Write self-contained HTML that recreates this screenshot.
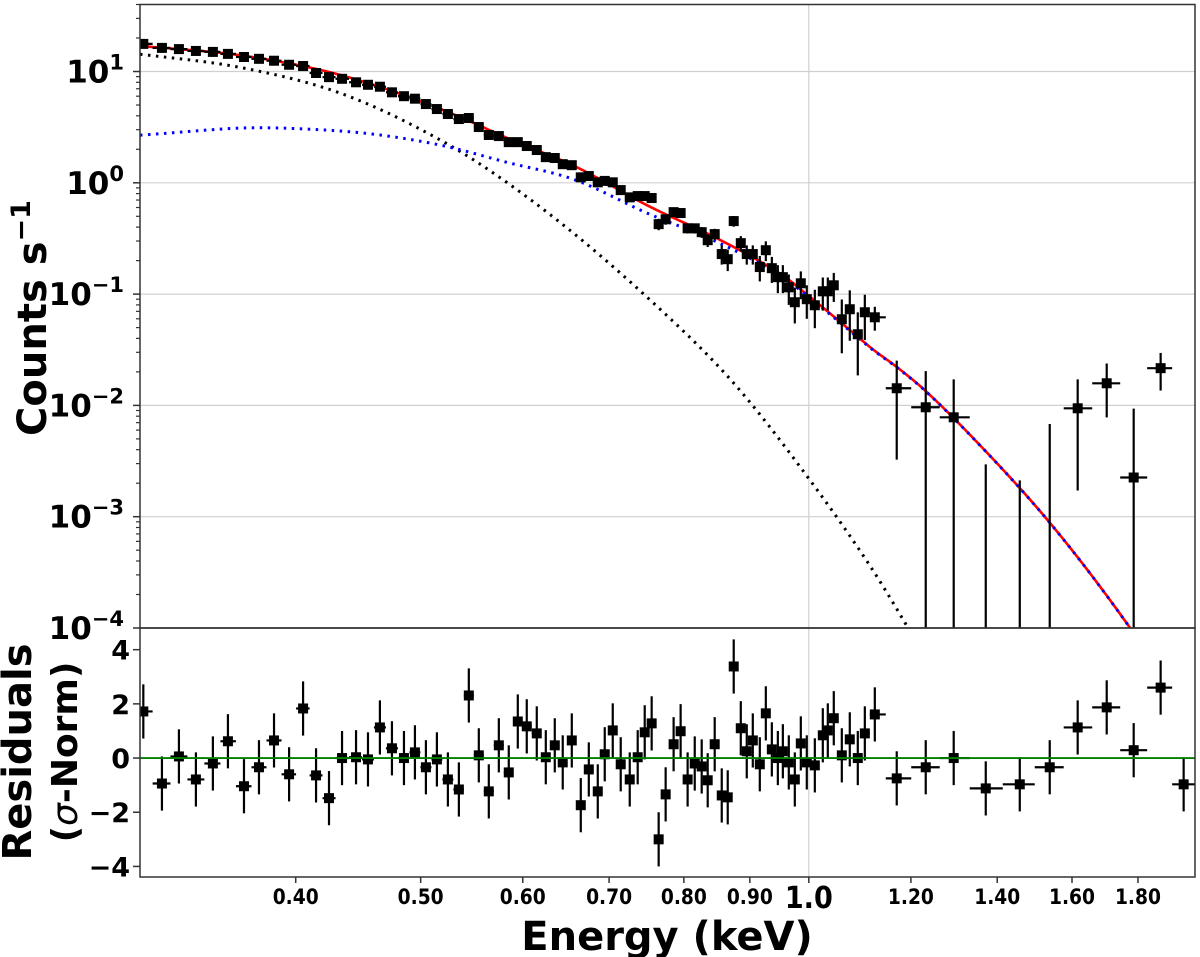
<!DOCTYPE html>
<html>
<head>
<meta charset="utf-8">
<style>
html,body{margin:0;padding:0;background:#fff;}
svg{display:block;font-family:"DejaVu Sans","Liberation Sans",sans-serif;}
</style>
</head>
<body>
<svg id="chart" width="1200" height="957" viewBox="0 0 1200 957" xmlns="http://www.w3.org/2000/svg">
  <defs>
    <clipPath id="clipTop"><rect x="140" y="4.5" width="1055" height="623.5"/></clipPath>
    <clipPath id="clipBot"><rect x="140" y="628" width="1055" height="249"/></clipPath>
  </defs>
  <g id="gridTop"></g>
  <g id="gridBot"></g>
  <g id="models" clip-path="url(#clipTop)"></g>
  <g id="dataTop" clip-path="url(#clipTop)"></g>
  <g id="dataBot" clip-path="url(#clipBot)"></g>
  <g id="axes"></g>
  <text transform="translate(46,318) rotate(-90)" text-anchor="middle" font-size="40" font-weight="bold">Counts s<tspan font-size="27" dy="-16">−1</tspan></text>
  <text transform="translate(31,752) rotate(-90)" text-anchor="middle" font-size="40" font-weight="bold">Residuals</text>
  <text transform="translate(77,752) rotate(-90)" text-anchor="middle" font-size="36" font-weight="bold">(<tspan font-style="italic" font-weight="normal">σ</tspan>-Norm)</text>
  <text x="667" y="950" text-anchor="middle" font-size="40" font-weight="bold">Energy (keV)</text>
</svg>
<script>
// ---- data ----
const energies = [0.3047,0.3150,0.3247,0.3347,0.3450,0.3544,0.3647,0.3746,0.3848,0.3953,0.4053,0.4148,0.4245,0.4345,0.4455,0.4551,0.4649,0.4750,0.4853,0.4949,0.5047,0.5147,0.5249,0.5353,0.5449,0.5547,0.5647,0.5749,0.5852,0.5947,0.6043,0.6152,0.6252,0.6353,0.6444,0.6549,0.6655,0.6751,0.6860,0.6946,0.7046,0.7147,0.7263,0.7367,0.7460,0.7553,0.7648,0.7744,0.7855,0.7954,0.8054,0.8157,0.8259,0.8348,0.8453,0.8560,0.8652,0.8745,0.8856,0.8951,0.9048,0.9162,0.9261,0.9361,0.9462,0.9547,0.9649,0.9753,0.9858,0.9964,1.0108,1.0253,1.0345,1.0456,1.0607,1.0759,1.0914,1.1052,1.1251,1.1700,1.2322,1.2953,1.3716,1.4575,1.5376,1.6163,1.7023,1.7863,1.8744,1.9530];
const counts = [17.7,16.3,15.9,15.3,15.0,14.4,13.5,13.0,12.5,11.5,11.2,9.7,8.9,8.6,8.0,7.6,7.3,6.5,6.0,5.7,5.1,4.6,4.15,3.74,3.82,3.17,2.69,2.63,2.32,2.32,2.14,1.97,1.70,1.67,1.47,1.44,1.12,1.15,1.01,1.04,1.01,0.86,0.74,0.76,0.76,0.73,0.425,0.47,0.545,0.535,0.39,0.39,0.36,0.305,0.346,0.229,0.206,0.453,0.287,0.229,0.229,0.175,0.248,0.171,0.142,0.142,0.115,0.0845,0.125,0.090,0.0794,0.106,0.106,0.120,0.0594,0.0731,0.0436,0.0687,0.0619,0.01426,0.00962,0.00782,-0.002,-0.002,-0.002,0.00942,0.0158,0.00225,0.0216,-0.002];
const countErr = [0.4,0.35,0.35,0.3,0.3,0.3,0.3,0.3,0.25,0.25,0.25,0.22,0.2,0.2,0.2,0.18,0.18,0.16,0.15,0.15,0.14,0.13,0.12,0.11,0.11,0.1,0.09,0.09,0.08,0.08,0.08,0.07,0.07,0.07,0.06,0.06,0.05,0.05,0.05,0.05,0.05,0.045,0.04,0.04,0.04,0.04,0.05,0.05,0.05,0.05,0.04,0.04,0.04,0.04,0.04,0.045,0.045,0.05,0.045,0.045,0.045,0.045,0.05,0.045,0.04,0.04,0.035,0.03,0.035,0.03,0.03,0.035,0.035,0.035,0.03,0.035,0.025,0.03,0.015,0.011,0.0107,0.0093,0.00495,0.00412,0.0088,0.0077,0.008,0.0071,0.008,0.0019];
const residuals = [1.72,-0.94,0.06,-0.79,-0.2,0.62,-1.04,-0.34,0.65,-0.6,1.83,-0.64,-1.48,0,0.03,-0.05,1.13,0.36,0,0.21,-0.34,-0.05,-0.79,-1.16,2.31,0.1,-1.23,0.47,-0.53,1.35,1.17,0.91,0.03,0.47,-0.16,0.65,-1.74,-0.42,-1.23,0.14,1.02,-0.23,-0.79,0.03,0.95,1.28,-3.0,-1.34,0.51,0.99,-0.79,-0.2,-0.31,-0.82,0.51,-1.38,-1.45,3.38,1.1,0.25,0.65,-0.23,1.65,0.32,0,0.25,-0.16,-0.79,0.54,-0.16,-0.27,0.84,1.02,1.47,0.1,0.69,0,0.91,1.61,-0.75,-0.34,0,-1.12,-0.97,-0.34,1.13,1.87,0.29,2.6,-0.97];
// model component samples (energy keV, counts/s)
const bbEnergy = [0.3029,0.362,0.433,0.518,0.583,0.749,0.869,1.0,1.119,1.191,1.25];
const bbCounts = [14.3,10.9,6.4,2.42,1.01,0.094,0.0172,0.0022,0.000342,0.000105,0.00004];
const plEnergy = [0.3029,0.362,0.408,0.459,0.518,0.583,0.656,0.749,0.843,0.950,1.0,1.115,1.170,1.230,1.374,1.537,1.774,1.85];
const plCounts = [2.68,3.10,3.04,2.74,2.18,1.53,1.08,0.535,0.305,0.148,0.0938,0.0332,0.0220,0.01365,0.00378,0.000889,0.000101,0.00005];
const yTickExp = [1,0,-1,-2,-3,-4];
const resTicks = [4,2,0,-2,-4];
const xTickVals = [0.4,0.5,0.6,0.7,0.8,0.9,1.2,1.4,1.6,1.8];
const xTickLabels = ["0.40","0.50","0.60","0.70","0.80","0.90","1.20","1.40","1.60","1.80"];

// ---- scales ----
const X0=140,X1=1195,YT0=4.5,YT1=628,YB0=628,YB1=877;
const EMIN=0.3029,EMAX=1.993;
const LMIN=-4,LMAX=Math.log10(40);
const RMIN=-4.39,RMAX=4.8;
function xs(e){return X0+(Math.log10(e)-Math.log10(EMIN))/(Math.log10(EMAX)-Math.log10(EMIN))*(X1-X0);}
function ys(v){return YT1-(Math.log10(v)-LMIN)/(LMAX-LMIN)*(YT1-YT0);}
function yr(r){return YB1-(r-RMIN)/(RMAX-RMIN)*(YB1-YB0);}
const NS="http://www.w3.org/2000/svg";
function mk(tag,attrs,parent){const el=document.createElementNS(NS,tag);for(const k in attrs)el.setAttribute(k,attrs[k]);parent.appendChild(el);return el;}
const gGT=document.getElementById('gridTop'),gGB=document.getElementById('gridBot'),gM=document.getElementById('models'),gD=document.getElementById('dataTop'),gR=document.getElementById('dataBot'),gA=document.getElementById('axes');

// grids
yTickExp.forEach(p=>{const y=ys(Math.pow(10,p));
  const l=mk('line',{x1:X0,x2:X1,y1:y,y2:y,stroke:'#d0d0d0','stroke-width':1.2},gGT);
  
  
});
[[YT0,YT1,gGT],[YB0,YB1,gGB]].forEach(a=>{
  const l=mk('line',{x1:xs(1),x2:xs(1),y1:a[0],y2:a[1],stroke:'#d0d0d0','stroke-width':1.2},a[2]);
  
  
});

// models: monotone-ish Hermite interpolation in linear E vs log V, linear extrapolation outside
function interp(E,arrE,arrV){
  const n=arrE.length;
  const L=k=>Math.log10(arrV[k]);
  if(E<=arrE[0]){const s=(L(1)-L(0))/(arrE[1]-arrE[0]);return Math.pow(10,L(0)+s*(E-arrE[0]));}
  if(E>=arrE[n-1]){const s=(L(n-1)-L(n-2))/(arrE[n-1]-arrE[n-2]);return Math.pow(10,L(n-1)+s*(E-arrE[n-1]));}
  let i=0;
  while(i<n-2&&E>arrE[i+1])i++;
  const X=k=>arrE[k];
  const t=(E-X(i))/(X(i+1)-X(i));
  const m0=(i>0)?(L(i+1)-L(i-1))/(X(i+1)-X(i-1)):(L(i+1)-L(i))/(X(i+1)-X(i));
  const m1=(i+2<n)?(L(i+2)-L(i))/(X(i+2)-X(i)):(L(i+1)-L(i))/(X(i+1)-X(i));
  const h=X(i+1)-X(i);
  const h00=2*t*t*t-3*t*t+1,h10=t*t*t-2*t*t+t,h01=-2*t*t*t+3*t*t,h11=t*t*t-t*t;
  return Math.pow(10,h00*L(i)+h10*h*m0+h01*L(i+1)+h11*h*m1);
}
function curve(fn,e0,e1){let d='';const n=400;for(let i=0;i<=n;i++){const e=Math.pow(10,Math.log10(e0)+(Math.log10(e1)-Math.log10(e0))*i/n);const v=fn(e);d+=(i?'L':'M')+xs(e).toFixed(2)+','+ys(v).toFixed(2);}return d;}
const bbPath=mk('path',{d:curve(e=>interp(e,bbEnergy,bbCounts),bbEnergy[0],bbEnergy[bbEnergy.length-1]),fill:'none',stroke:'#000','stroke-width':3,'stroke-dasharray':'2.5,5.5'},gM);


const totPath=mk('path',{d:curve(e=>interp(e,bbEnergy,bbCounts)+interp(e,plEnergy,plCounts),plEnergy[0],plEnergy[plEnergy.length-1]),fill:'none',stroke:'#ff0000','stroke-width':2.6},gM);


const plPath=mk('path',{d:curve(e=>interp(e,plEnergy,plCounts),plEnergy[0],plEnergy[plEnergy.length-1]),fill:'none',stroke:'#0000ff','stroke-width':3,'stroke-dasharray':'2.5,5.5'},gM);



// bin edges from geometric midpoints
const N=energies.length;
const lo=[],hi=[];
for(let i=0;i<N;i++){
  const prev=i>0?Math.sqrt(energies[i-1]*energies[i]):energies[i]*energies[i]/Math.sqrt(energies[i]*energies[i+1]);
  const next=i<N-1?Math.sqrt(energies[i]*energies[i+1]):EMAX;
  lo.push(prev);hi.push(next);
}
const BOT=YT1+20;
for(let i=0;i<N;i++){
  const x=xs(energies[i]);
  const v=counts[i],er=countErr[i];
  const up=v+er,dn=v-er;
  const g=mk('g',{},gD);
  
  
  if(up>0){
    mk('line',{x1:x,x2:x,y1:ys(up),y2:dn>0?ys(dn):BOT,stroke:'#000','stroke-width':2.2},g);
  }
  if(v>0){
    const y=ys(v);
    mk('line',{x1:xs(lo[i]),x2:xs(hi[i]),y1:y,y2:y,stroke:'#000','stroke-width':2.2},g);
    mk('rect',{x:x-5,y:y-5,width:10,height:10,fill:'#000'},g);
  }
  const g2=mk('g',{},gR);
  
  
  const yy=yr(residuals[i]);
  mk('line',{x1:x,x2:x,y1:yr(residuals[i]+1),y2:yr(residuals[i]-1),stroke:'#000','stroke-width':2.2},g2);
  mk('line',{x1:xs(lo[i]),x2:xs(hi[i]),y1:yy,y2:yy,stroke:'#000','stroke-width':2.2},g2);
  mk('rect',{x:x-5,y:yy-5,width:10,height:10,fill:'#000'},g2);
}
// zero line
const zl=mk('line',{x1:X0,x2:X1,y1:yr(0),y2:yr(0),stroke:'#008000','stroke-width':1.8},gR);



// axes frames
const f1=mk('rect',{x:X0,y:YT0,width:X1-X0,height:YT1-YT0,fill:'none',stroke:'#333','stroke-width':1.5},gA);


const f2=mk('rect',{x:X0,y:YB0,width:X1-X0,height:YB1-YB0,fill:'none',stroke:'#333','stroke-width':1.5},gA);



// y ticks top
yTickExp.forEach(p=>{const y=ys(Math.pow(10,p));
  mk('line',{x1:X0-7,x2:X0,y1:y,y2:y,stroke:'#333','stroke-width':1.5},gA);
  const t=mk('text',{x:124,y:y+11,'text-anchor':'end','font-size':31,'font-weight':'bold'},gA);
  
  
  t.textContent='10';
  const s=mk('tspan',{'font-size':21,dy:-13},t);
  s.textContent=(p<0?'−':'')+Math.abs(p);
  for(let m=2;m<=9;m++){const v=m*Math.pow(10,p);if(v<=40&&v>=1e-4){const ym=ys(v);mk('line',{x1:X0-4,x2:X0,y1:ym,y2:ym,stroke:'#333','stroke-width':1.2},gA);}}
});
// residual ticks
resTicks.forEach(r=>{const y=yr(r);
  mk('line',{x1:X0-7,x2:X0,y1:y,y2:y,stroke:'#333','stroke-width':1.5},gA);
  const t=mk('text',{x:130,y:y+10,'text-anchor':'end','font-size':27,'font-weight':'bold'},gA);
  
  
  t.textContent=(r<0?'−':'')+Math.abs(r);
});
// x ticks
xTickVals.forEach((v,i)=>{const x=xs(v);
  mk('line',{x1:x,x2:x,y1:YB1,y2:YB1+6,stroke:'#333','stroke-width':1.5},gA);
  const t=mk('text',{x:x,y:904,'text-anchor':'middle','font-size':21,'font-weight':'bold',textLength:46,lengthAdjust:'spacingAndGlyphs'},gA);
  
  
  t.textContent=xTickLabels[i];
});
mk('line',{x1:xs(1),x2:xs(1),y1:YB1,y2:YB1+6,stroke:'#333','stroke-width':1.5},gA);
const t1=mk('text',{x:xs(1),y:908,'text-anchor':'middle','font-size':30,'font-weight':'bold',textLength:48,lengthAdjust:'spacingAndGlyphs'},gA);


t1.textContent='1.0';
</script>
</body>
</html>
